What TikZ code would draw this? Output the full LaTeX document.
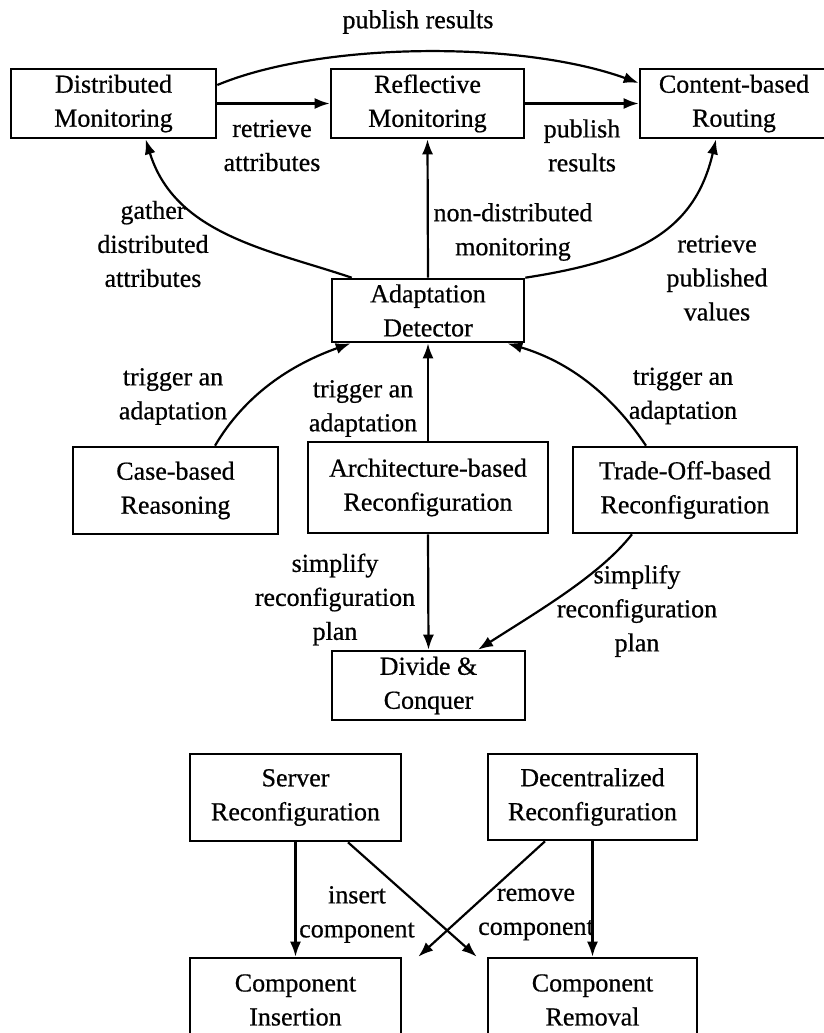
\documentclass[tikz,border=0pt]{standalone}
\usepackage{fontspec}
\setmainfont{Liberation Serif}[FakeBold=0.6]
\usetikzlibrary{arrows.meta}
\begin{document}
\begin{tikzpicture}[x=1pt,y=-1pt,
  txt/.style={font=\fontsize{26}{34}\selectfont, align=center, inner sep=0pt},
  box/.style={txt, draw, line width=2.6pt},
  flow/.style={line width=2.2pt, -{Latex[length=15pt,width=11pt]}},
]
\useasboundingbox (0,0) rectangle (824,1033);
\clip (0,0) rectangle (824,1033);

% components
\node[box, minimum width=205pt, minimum height=69pt] (dm) at (113.5,103.5) {Distributed\\Monitoring};
\node[box, minimum width=193pt, minimum height=69pt] (rm) at (427.5,103.5) {Reflective\\Monitoring};
\node[box, minimum width=188pt, minimum height=69pt] (cbr) at (734,103.5) {Content-based\\Routing};
\node[box, minimum width=192pt, minimum height=63pt] (ad) at (428,310.5) {Adaptation\\Detector};
\node[box, minimum width=205pt, minimum height=87pt] (cbreason) at (175.5,490.5) {Case-based\\Reasoning};
\node[box, minimum width=240pt, minimum height=91pt] (abr) at (428,487.5) {Architecture-based\\Reconfiguration};
\node[box, minimum width=224pt, minimum height=86pt] (tor) at (685,490) {Trade-Off-based\\Reconfiguration};
\node[box, minimum width=193pt, minimum height=69pt] (dc) at (428.5,685.5) {Divide \&\\Conquer};
\node[box, minimum width=211pt, minimum height=87pt] (sr) at (295.5,797.5) {Server\\Reconfiguration};
\node[box, minimum width=209pt, minimum height=86pt] (dr) at (592.5,797) {Decentralized\\Reconfiguration};
\node[box, minimum width=211pt, minimum height=84pt] (ci) at (295.5,1000) {Component\\Insertion};
\node[box, minimum width=209pt, minimum height=84pt] (cr) at (592.5,1000) {Component\\Removal};

% monitoring layer
\draw[flow] ([yshift=18.5pt]dm.east) .. controls (320,42) and (520,40) .. ([yshift=20.5pt]cbr.west);
\node[txt] (lpub) at (418,22) {publish results};
\draw[flow] (dm) -- (rm);
\node[txt] (lret) at (272,145.5) {retrieve\\attributes};
\draw[flow] (rm) -- (cbr);
\node[txt] (lpub2) at (582,145.5) {publish\\results};

% detector
\draw[flow] ([xshift=21pt]ad.north west) .. controls (270,250) and (175,235) .. ([xshift=136pt]dm.south west);
\node[txt] (lgather) at (153,244) {gather\\distributed\\attributes};
\draw[flow] (ad.north) -- (rm.south);
\node[txt] (lnondist) at (513,232) {non-distributed\\monitoring};
\draw[flow] (ad.north east) .. controls (640,260) and (695,230) .. ([xshift=-18pt]cbr.south);
\node[txt] (lretpub) at (717,278) {retrieve\\published\\values};

% triggers
\draw[flow] ([xshift=39.5pt]cbreason.north) .. controls (245,395) and (290,365) .. ([xshift=20pt]ad.south west);
\node[txt] (ltrig1) at (173,396.5) {trigger an\\adaptation};
\draw[flow] (abr.north) -- (ad.south);
\node[txt] (ltrig2) at (363,408.5) {trigger an\\adaptation};
\draw[flow] ([xshift=-39pt]tor.north) .. controls (612,395) and (570,362) .. ([xshift=-18pt]ad.south east);
\node[txt] (ltrig3) at (683,396) {trigger an\\adaptation};

% plan simplification
\draw[flow] (abr.south) -- (dc.north);
\node[txt] (lsimp1) at (335,599.5) {simplify\\reconfiguration\\plan};
\draw[flow] ([xshift=-53pt]tor.south) .. controls (600,575) and (540,610) .. ([xshift=49.5pt]dc.north);
\node[txt] (lsimp2) at (637,611) {simplify\\reconfiguration\\plan};

% reconfiguration
\draw[flow] (sr.south) -- (ci.north);
\draw[flow] ([xshift=52.5pt]sr.south) -- ([xshift=-10pt]cr.north west);
\draw[flow] ([xshift=-47.5pt]dr.south) -- ([xshift=16pt]ci.north east);
\draw[flow] (dr.south) -- (cr.north);
\node[txt] (lins) at (357,914.5) {insert\\component};
\node[txt] (lrem) at (536,914.5) {remove\\component};
\end{tikzpicture}
\end{document}
